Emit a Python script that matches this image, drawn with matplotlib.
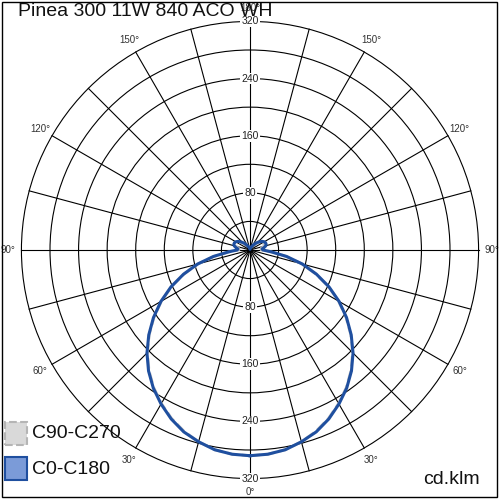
import numpy as np
import matplotlib.pyplot as plt
from matplotlib.patches import Rectangle, Circle

plt.rcParams['font.family'] = ['Liberation Sans', 'DejaVu Sans']

# luminous intensity (cd/klm) vs gamma angle (deg)
angles = [0, 5, 10, 15, 20, 25, 30, 35, 40, 45, 50, 55, 60, 65, 70, 75, 80, 85,
          90, 95, 100, 105, 110, 115, 120, 125, 130, 135, 140, 145, 150, 155,
          160, 165, 170, 175, 180]
c0_c180 = [288, 287, 284, 278, 271, 261, 249, 236, 221, 204, 185, 165, 144, 122,
           99, 76, 52, 30, 18, 17, 20, 23, 24, 24, 23, 21, 18, 15, 12, 9, 7, 5,
           4, 3, 2, 1, 1]
c90_c270 = [288, 287, 284, 278, 270, 260, 248, 235, 220, 203, 184, 164, 143, 121,
            98, 75, 51, 29, 16, 15, 17, 20, 21, 21, 20, 18, 16, 13, 10, 8, 6, 4,
            3, 2, 2, 1, 1]

rings = [40, 80, 120, 160, 200, 240, 280, 320]
ring_labels = [80, 160, 240, 320]
angle_labels = [0, 30, 60, 90, 120, 150, 180]
title = "Pinea 300 11W 840 ACO WH"
legend_names = ["C90-C270", "C0-C180"]
unit = "cd.klm"

fig = plt.figure(figsize=(5, 5), dpi=100)
ax = fig.add_axes([0, 0, 1, 1])
ax.set_xlim(-350, 350)
ax.set_ylim(-350, 350)
ax.set_aspect('equal')
ax.axis('off')

# polar grid
for r in rings:
    ax.add_patch(Circle((0, 0), r, fill=False, ec='black', lw=0.8, zorder=1))
rmax = rings[-1]
for a in range(0, 360, 15):
    t = np.radians(a)
    ax.plot([0, rmax * np.sin(t)], [0, -rmax * np.cos(t)], color='black', lw=0.8, zorder=1)

for a in angle_labels:
    t = np.radians(a)
    for s in ([1, -1] if a not in (0, 180) else [1]):
        ax.text(s * 339 * np.sin(t), -339 * np.cos(t), f"{a}°", fontsize=7,
                ha='center', va='center', color='#333333', zorder=3)

for r in ring_labels:
    for s in (1, -1):
        ax.text(0, s * r, str(r), fontsize=7.5, ha='center', va='center', color='#222222',
                bbox=dict(facecolor='white', edgecolor='none', pad=0.6), zorder=3)


def half_to_full(vals):
    th = np.radians(angles)
    v = np.array(vals)
    x = np.concatenate([v * np.sin(th), -(v * np.sin(th))[::-1]])
    y = np.concatenate([-v * np.cos(th), (-v * np.cos(th))[::-1]])
    return x, y


x2, y2 = half_to_full(c90_c270)
ax.plot(x2, y2, color='#c8c8c8', lw=2, ls='--', zorder=4)
x1, y1 = half_to_full(c0_c180)
ax.plot(x1, y1, color='#1f4f9f', lw=2.2, zorder=5)

# texts and legend (figure pixel coords)
W = 500.0
fig.text(18 / W, 1 - 11 / W, title, fontsize=14, ha='left', va='center', color='#111111')
fig.text(423 / W, 1 - 480 / W, unit, fontsize=14, ha='left', va='center', color='#111111')

fig.patches.append(Rectangle((5 / W, 1 - 445 / W), 22 / W, 23 / W, transform=fig.transFigure,
                             facecolor='#d9d9d9', edgecolor='#b5b5b5', ls='--', lw=1.5))
fig.patches.append(Rectangle((5 / W, 1 - 480 / W), 22 / W, 23 / W, transform=fig.transFigure,
                             facecolor='#7b9bd8', edgecolor='#1f4f9f', lw=1.5))
fig.text(32 / W, 1 - 434 / W, legend_names[0], fontsize=14, ha='left', va='center', color='#111111')
fig.text(32 / W, 1 - 469 / W, legend_names[1], fontsize=14, ha='left', va='center', color='#111111')

# outer frame
fig.patches.append(Rectangle((1.5 / W, 1 - 497 / W), 495.5 / W, 495.5 / W, transform=fig.transFigure,
                             fill=False, edgecolor='black', lw=1))

fig.savefig('out.png', dpi=100)
